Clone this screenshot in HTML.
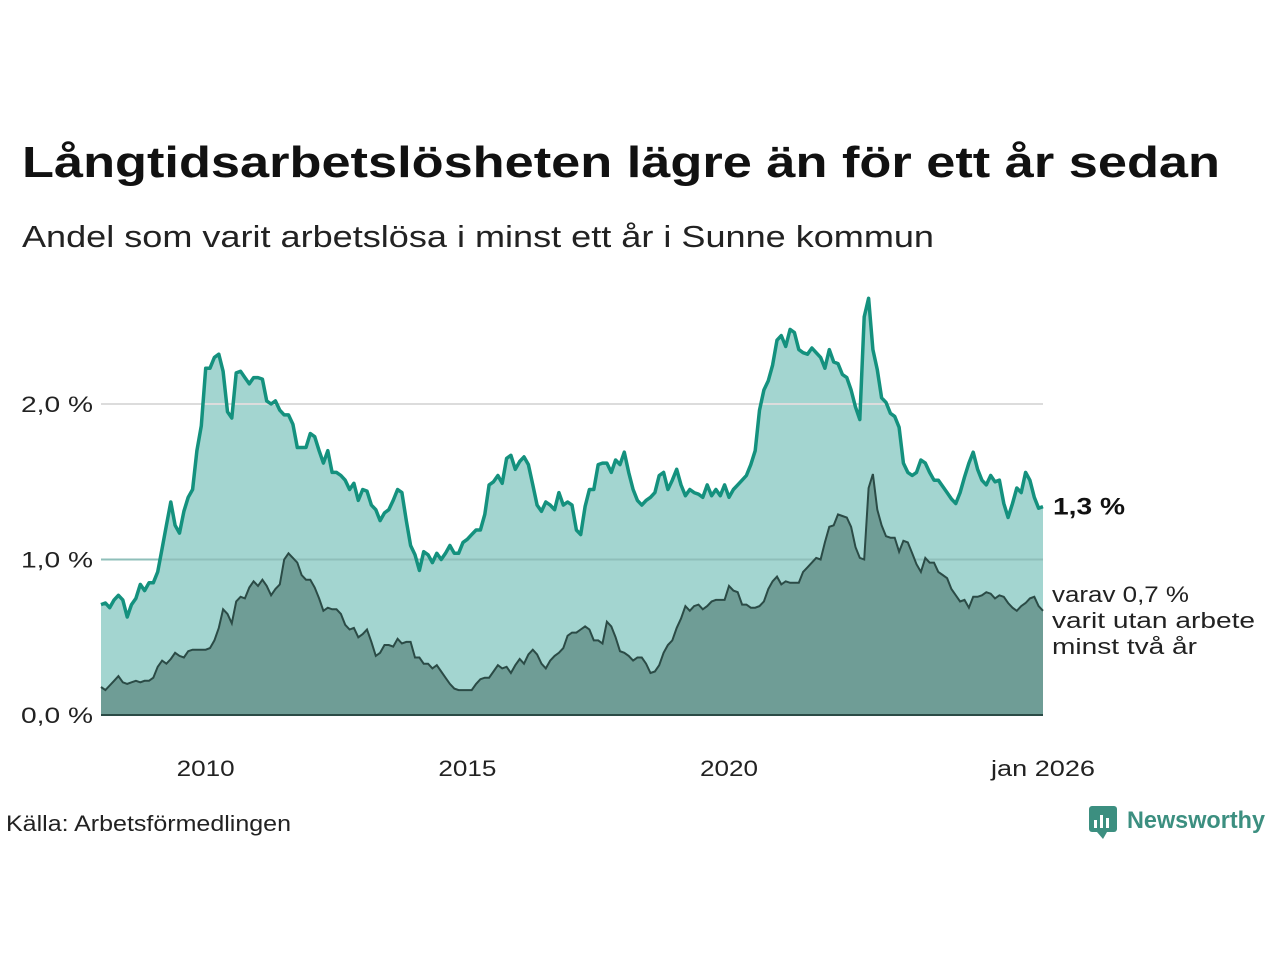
<!DOCTYPE html>
<html><head><meta charset="utf-8"><style>html,body{margin:0;padding:0;background:#fff}svg{display:block}</style></head>
<body>
<svg id="chart" width="1280" height="960" xmlns="http://www.w3.org/2000/svg" font-family="Liberation Sans, sans-serif">
<text x="22" y="177" font-size="44" font-weight="bold" fill="#111" textLength="1198" lengthAdjust="spacingAndGlyphs">Långtidsarbetslösheten lägre än för ett år sedan</text>
<text x="22" y="247" font-size="31" fill="#222" textLength="912" lengthAdjust="spacingAndGlyphs">Andel som varit arbetslösa i minst ett år i Sunne kommun</text>
<g id="plot"></g>
<text x="6" y="831" font-size="22" fill="#222" textLength="285" lengthAdjust="spacingAndGlyphs">Källa: Arbetsförmedlingen</text>
<g>
<rect x="1089" y="806" width="28" height="26" rx="3" fill="#3c8f80"/>
<path d="M1097 832 L1103 839 L1107 832 Z" fill="#3c8f80"/>
<rect x="1094" y="820" width="3" height="8" fill="#fff"/><rect x="1100" y="815" width="3" height="13" fill="#fff"/><rect x="1106" y="818" width="3" height="10" fill="#fff"/>
<text x="1127" y="828" font-size="24" font-weight="bold" fill="#3c8f80" textLength="138" lengthAdjust="spacingAndGlyphs">Newsworthy</text>
</g>
</svg>
<script>
const startYear = 2008;
const totalValues = [
0.71,0.72,0.69,0.74,0.77,0.74,0.63,0.71,0.75,0.84,0.80,0.85,
0.85,0.92,1.07,1.22,1.37,1.22,1.17,1.31,1.40,1.45,1.70,1.86,
2.23,2.23,2.30,2.32,2.21,1.95,1.91,2.20,2.21,2.17,2.13,2.17,
2.17,2.16,2.02,2.00,2.02,1.96,1.93,1.93,1.87,1.72,1.72,1.72,
1.81,1.79,1.70,1.62,1.70,1.56,1.56,1.54,1.51,1.45,1.49,1.38,
1.45,1.44,1.35,1.32,1.25,1.30,1.32,1.38,1.45,1.43,1.25,1.09,
1.03,0.93,1.05,1.03,0.98,1.04,1.00,1.04,1.09,1.04,1.04,1.11,
1.13,1.16,1.19,1.19,1.29,1.48,1.50,1.54,1.49,1.65,1.67,1.58,
1.63,1.66,1.61,1.48,1.35,1.31,1.37,1.35,1.32,1.43,1.35,1.37,
1.35,1.19,1.16,1.34,1.45,1.45,1.61,1.62,1.62,1.56,1.64,1.61,
1.69,1.56,1.45,1.38,1.35,1.38,1.40,1.43,1.54,1.56,1.45,1.51,
1.58,1.48,1.41,1.45,1.43,1.42,1.40,1.48,1.41,1.45,1.41,1.48,
1.40,1.45,1.48,1.51,1.54,1.61,1.70,1.96,2.09,2.15,2.25,2.41,
2.44,2.37,2.48,2.46,2.35,2.33,2.32,2.36,2.33,2.30,2.23,2.35,
2.27,2.26,2.19,2.17,2.09,1.98,1.90,2.56,2.68,2.35,2.22,2.04,
2.01,1.94,1.92,1.85,1.62,1.56,1.54,1.56,1.64,1.62,1.56,1.51,
1.51,1.47,1.43,1.39,1.36,1.43,1.53,1.62,1.69,1.58,1.51,1.48,
1.54,1.50,1.51,1.36,1.27,1.36,1.46,1.43,1.56,1.51,1.40,1.33,
1.34];
const twoYearValues = [
0.18,0.16,0.19,0.22,0.25,0.21,0.20,0.21,0.22,0.21,0.22,0.22,
0.24,0.31,0.35,0.33,0.36,0.40,0.38,0.37,0.41,0.42,0.42,0.42,
0.42,0.43,0.48,0.56,0.68,0.65,0.59,0.73,0.76,0.75,0.82,0.86,
0.83,0.87,0.83,0.77,0.81,0.84,1.00,1.04,1.01,0.98,0.90,0.87,
0.87,0.82,0.75,0.67,0.69,0.68,0.68,0.65,0.58,0.55,0.56,0.50,
0.52,0.55,0.47,0.38,0.40,0.45,0.45,0.44,0.49,0.46,0.47,0.47,
0.37,0.37,0.33,0.33,0.30,0.32,0.28,0.24,0.20,0.17,0.16,0.16,
0.16,0.16,0.20,0.23,0.24,0.24,0.28,0.32,0.30,0.31,0.27,0.32,
0.36,0.33,0.39,0.42,0.39,0.33,0.30,0.35,0.38,0.40,0.43,0.51,
0.53,0.53,0.55,0.57,0.55,0.48,0.48,0.46,0.60,0.57,0.50,0.41,
0.40,0.38,0.35,0.37,0.37,0.33,0.27,0.28,0.32,0.40,0.45,0.48,
0.56,0.62,0.70,0.67,0.70,0.71,0.68,0.70,0.73,0.74,0.74,0.74,
0.83,0.80,0.79,0.71,0.71,0.69,0.69,0.70,0.73,0.81,0.86,0.89,
0.84,0.86,0.85,0.85,0.85,0.92,0.95,0.98,1.01,1.00,1.11,1.21,
1.22,1.29,1.28,1.27,1.21,1.08,1.01,1.00,1.46,1.55,1.32,1.22,
1.15,1.14,1.14,1.05,1.12,1.11,1.04,0.97,0.92,1.01,0.98,0.98,
0.92,0.90,0.88,0.81,0.77,0.73,0.74,0.69,0.76,0.76,0.77,0.79,
0.78,0.75,0.77,0.76,0.72,0.69,0.67,0.70,0.72,0.75,0.76,0.70,
0.67];
const yTicks = [0, 1, 2];
const yTickLabels = ["0,0 %", "1,0 %", "2,0 %"];
const xTickYears = [2010, 2015, 2020, 2026];
const xTickLabels = ["2010", "2015", "2020", "jan 2026"];
const lastLabel = "1,3 %";

const NS = "http://www.w3.org/2000/svg";
const g = document.getElementById("plot");
const X0 = 101, X1 = 1043, Y0 = 715, PXPER = 155.5;
const n = totalValues.length;
const xMonth = i => X0 + (X1 - X0) * i / (n - 1);
const xYear = yr => xMonth((yr - startYear) * 12);
const yv = v => Y0 - v * PXPER;
function mk(tag, attrs) { const e = document.createElementNS(NS, tag); for (const k in attrs) e.setAttribute(k, attrs[k]); g.appendChild(e); return e; }
function linePts(arr) { return arr.map((v, i) => xMonth(i).toFixed(1) + "," + yv(v).toFixed(1)).join(" L"); }
function areaD(arr) { return "M" + X0 + "," + Y0 + " L" + linePts(arr) + " L" + X1 + "," + Y0 + " Z"; }

let a1 = mk("path", { d: areaD(totalValues), fill: "#a3d5d0" });


yTicks.forEach((t, i) => {
  if (t > 0) {
    let gl = mk("line", { x1: X0, x2: X1, y1: yv(t), y2: yv(t), stroke: t === 1 ? "#8fbfba" : "#dcdcdc", "stroke-width": 2 });
    
    
  }
  let tl = mk("text", { x: 93, y: yv(t) + 8, "font-size": 22, fill: "#222", "text-anchor": "end", textLength: 72, lengthAdjust: "spacingAndGlyphs" });
  tl.textContent = yTickLabels[i];
  
  
});
let a2 = mk("path", { d: areaD(twoYearValues), fill: "#6f9d96" });


let l2 = mk("path", { d: "M" + linePts(twoYearValues), fill: "none", stroke: "#2b4b46", "stroke-width": 2 });


let l1 = mk("path", { d: "M" + linePts(totalValues), fill: "none", stroke: "#14917e", "stroke-width": 3.5, "stroke-linejoin": "round" });


let base = mk("line", { x1: X0, x2: X1, y1: Y0, y2: Y0, stroke: "#2b4b46", "stroke-width": 2 });


xTickYears.forEach((yr, i) => {
  let w = xTickLabels[i].length > 4 ? 104 : 58;
  let t = mk("text", { x: xYear(yr), y: 776, "font-size": 22, fill: "#222", "text-anchor": "middle", textLength: w, lengthAdjust: "spacingAndGlyphs" });
  t.textContent = xTickLabels[i];
  
  
});
let ll = mk("text", { x: 1053, y: yv(totalValues[n - 1]) + 8, "font-size": 24, "font-weight": "bold", fill: "#111", textLength: 72, lengthAdjust: "spacingAndGlyphs" });
ll.textContent = lastLabel;


const subLines = ["varav " + twoYearValues[n - 1].toFixed(1).replace(".", ",") + " %", "varit utan arbete", "minst två år"];
const subWidths = [137, 203, 145];
subLines.forEach((s, i) => {
  let t = mk("text", { x: 1052, y: 602 + i * 26, "font-size": 22, fill: "#222", textLength: subWidths[i], lengthAdjust: "spacingAndGlyphs" });
  t.textContent = s;
  
  
});
</script>
</body></html>
